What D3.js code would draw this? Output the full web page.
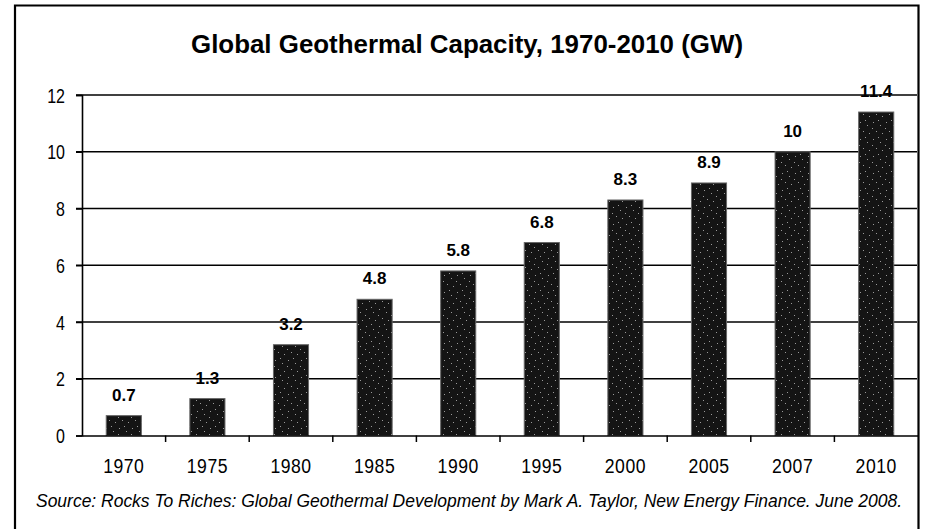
<!DOCTYPE html>
<html><head><meta charset="utf-8">
<script src="https://cdn.jsdelivr.net/npm/d3@7"></script>
<style>body{margin:0;background:#fff}svg{display:block}</style>
</head><body>
<script>
const years = ["1970","1975","1980","1985","1990","1995","2000","2005","2007","2010"];
const capacity = [0.7,1.3,3.2,4.8,5.8,6.8,8.3,8.9,10,11.4];
const valueLabels = ["0.7","1.3","3.2","4.8","5.8","6.8","8.3","8.9","10","11.4"];
const yTicks = [0,2,4,6,8,10,12];
const title = "Global Geothermal Capacity,  1970-2010 (GW)";
const source = "Source: Rocks To Riches: Global Geothermal Development by Mark A. Taylor, New Energy Finance. June 2008.";

const W = 927, H = 529;
const FONT = "Liberation Sans, Arial, sans-serif";
const svg = d3.select("body").append("svg").attr("width", W).attr("height", H);

// speckle pattern (fixed)
const defs = svg.append("defs");
const pat = defs.append("pattern").attr("id","speck").attr("patternUnits","userSpaceOnUse")
  .attr("width",13).attr("height",17);
pat.append("rect").attr("width",13).attr("height",17).attr("fill","#141414");
[[2,3],[9,6],[5,12],[11,14],[1,9],[7,1]].forEach(p=>pat.append("rect").attr("x",p[0]).attr("y",p[1]).attr("width",1).attr("height",1).attr("fill","#9a9a9a"));

// frame
svg.append("path").attr("d","M15,529 L15,5.5 L918.5,5.5 L918.5,529").attr("fill","none").attr("stroke","#000").attr("stroke-width",2.2);

const x = d3.scaleBand().domain(years).range([82, 918]).paddingInner(0.58).paddingOuter(0.29);
const xOuter = d3.scaleBand().domain(years).range([82, 918]);
const y = d3.scaleLinear().domain([0, 12]).range([435.5, 95]);

// gridlines
svg.append("g").selectAll("line").data(yTicks.filter(d=>d>0)).join("line")
  .attr("x1", 76).attr("x2", 917).attr("y1", d=>y(d)).attr("y2", d=>y(d))
  .attr("stroke","#000").attr("stroke-width",1.5);

// y axis
const ya = svg.append("g").attr("transform","translate(82,0)")
  .call(d3.axisLeft(y).tickValues(yTicks).tickSize(6).tickPadding(0).tickFormat(d3.format("d")));
ya.select(".domain").attr("stroke","#000").attr("stroke-width",1.6);
ya.selectAll(".tick line").attr("stroke-width",1.5);
ya.selectAll("text").attr("font-family",FONT).attr("font-size",20).attr("fill","#000")
  .attr("x",0).attr("dy","0.36em").attr("transform","translate(-17,0) scale(0.8,1)");

// bars
svg.append("g").selectAll("rect").data(capacity).join("rect")
  .attr("x",(d,i)=>x(years[i])).attr("width",x.bandwidth())
  .attr("y",d=>y(d)).attr("height",d=>y(0)-y(d))
  .attr("fill","url(#speck)").attr("stroke","#666").attr("stroke-width",1);

// x axis
const xa = svg.append("g").attr("transform","translate(0,435.5)")
  .call(d3.axisBottom(xOuter).tickSize(0).tickPadding(0));
xa.select(".domain").attr("stroke","#000").attr("stroke-width",1.6);
xa.selectAll("text").attr("font-family",FONT).attr("font-size",21).attr("fill","#000")
  .attr("y",37.5).attr("dy",0).attr("transform","scale(0.84,1)").attr("letter-spacing",0.6);
svg.append("g").selectAll("line").data(years.slice(1)).join("line")
  .attr("x1",d=>xOuter(d)).attr("x2",d=>xOuter(d)).attr("y1",435.5).attr("y2",442)
  .attr("stroke","#000").attr("stroke-width",1.5);

// value labels
svg.append("g").selectAll("text").data(capacity).join("text")
  .attr("x",(d,i)=>x(years[i])+x.bandwidth()/2).attr("y",d=>y(d)-15)
  .attr("text-anchor","middle").attr("font-family",FONT)
  .attr("font-weight","bold").attr("font-size",17).attr("fill","#000")
  .text((d,i)=>valueLabels[i]);

// title
svg.append("text").attr("x",467).attr("y",52.5).attr("text-anchor","middle")
  .attr("font-family",FONT).attr("font-weight","bold")
  .attr("font-size",25).attr("textLength",552).attr("lengthAdjust","spacingAndGlyphs")
  .attr("fill","#000").text(title);

// source
svg.append("text").attr("transform","translate(36,507) scale(1,1.08)")
  .attr("font-family",FONT).attr("font-style","italic")
  .attr("font-size",16.8).attr("textLength",866).attr("lengthAdjust","spacingAndGlyphs")
  .attr("fill","#000").text(source);
</script>
</body></html>
